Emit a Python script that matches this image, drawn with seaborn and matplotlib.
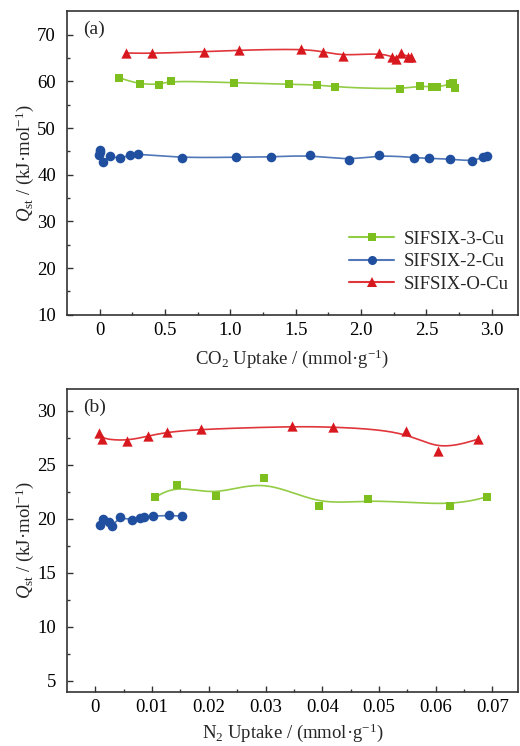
"""
Isosteric heat of adsorption (Qst) for SIFSIX-Cu materials, CO2 and N2
"""

import numpy as np
import seaborn as sns
import matplotlib.pyplot as plt
from matplotlib.lines import Line2D

# -------------------------
# Data
# -------------------------
series_names = ["SIFSIX-3-Cu", "SIFSIX-2-Cu", "SIFSIX-O-Cu"]

# (a) CO2
co2_3cu_x = [0.146, 0.305, 0.454, 0.549, 1.03, 1.45, 1.66, 1.80, 2.30, 2.45, 2.54, 2.58, 2.68, 2.70, 2.72]
co2_3cu_y = [60.8, 59.4, 59.35, 60.2, 59.7, 59.4, 59.3, 58.8, 58.3, 59.1, 58.8, 58.8, 59.4, 59.7, 58.7]

co2_2cu_x = [0.0, 0.005, -0.005, 0.023, 0.075, 0.154, 0.23, 0.29, 0.63, 1.046, 1.31, 1.61, 1.91,
             2.14, 2.405, 2.52, 2.68, 2.85, 2.93, 2.965]
co2_2cu_y = [45.3, 44.8, 44.3, 42.8, 44.0, 43.5, 44.2, 44.5, 43.6, 43.8, 43.8, 44.25, 43.1,
             44.25, 43.7, 43.5, 43.4, 42.9, 43.75, 44.0]

co2_ocu_x = [0.198, 0.40, 0.80, 1.065, 1.54, 1.71, 1.86, 2.14, 2.24, 2.27, 2.305, 2.36, 2.38]
co2_ocu_y = [66.1, 66.0, 66.4, 66.7, 67.0, 66.4, 65.5, 66.1, 65.3, 64.9, 66.1, 65.3, 65.2]

# (b) N2
n2_3cu_x = [0.0105, 0.0144, 0.0213, 0.0297, 0.0395, 0.0480, 0.0625, 0.0691]
n2_3cu_y = [21.99, 23.13, 22.11, 23.77, 21.18, 21.86, 21.18, 22.04]

n2_2cu_x = [0.0008, 0.0013, 0.0024, 0.0029, 0.0044, 0.0064, 0.0079, 0.0086, 0.0102, 0.0129, 0.0153]
n2_2cu_y = [19.45, 20.0, 19.73, 19.36, 20.17, 19.89, 20.07, 20.17, 20.26, 20.32, 20.26]

n2_ocu_x = [0.0007, 0.0012, 0.0055, 0.0092, 0.0126, 0.0187, 0.0346, 0.0419, 0.0547, 0.0604, 0.0675]
n2_ocu_y = [27.91, 27.38, 27.22, 27.66, 28.03, 28.31, 28.56, 28.52, 28.15, 26.3, 27.38]

colors = ["#7cbf1f", "#1f4f9e", "#d7191f"]
line_colors = ["#93cc45", "#5077b8", "#e0363b"]
markers = ["s", "o", "^"]
sizes = [38, 48, 55]


def bspline(x, y, n=25):
    """Clamped uniform cubic B-spline using the points as control points."""
    px = np.r_[x[0], x[0], x, x[-1], x[-1]]
    py = np.r_[y[0], y[0], y, y[-1], y[-1]]
    t = np.linspace(0, 1, n)
    b = [(1 - t) ** 3 / 6,
         (3 * t ** 3 - 6 * t ** 2 + 4) / 6,
         (-3 * t ** 3 + 3 * t ** 2 + 3 * t + 1) / 6,
         t ** 3 / 6]
    cx, cy = [], []
    for i in range(len(px) - 3):
        cx.append(sum(b[k] * px[i + k] for k in range(4)))
        cy.append(sum(b[k] * py[i + k] for k in range(4)))
    return np.concatenate(cx), np.concatenate(cy)


sns.set_style("ticks")
plt.rcParams["font.family"] = ["Liberation Serif", "DejaVu Serif"]
plt.rcParams["mathtext.fontset"] = "custom"
plt.rcParams["mathtext.rm"] = "Liberation Serif"
plt.rcParams["mathtext.it"] = "Liberation Serif:italic"
plt.rcParams["font.size"] = 13.5

fig = plt.figure(figsize=(5.2, 7.46), dpi=100)
ax_a = fig.add_axes([0.129, 0.578, 0.867, 0.4066])
ax_b = fig.add_axes([0.129, 0.0728, 0.867, 0.4054])

panels = [
    (ax_a, [(co2_3cu_x, co2_3cu_y), (co2_2cu_x, co2_2cu_y), (co2_ocu_x, co2_ocu_y)]),
    (ax_b, [(n2_3cu_x, n2_3cu_y), (n2_2cu_x, n2_2cu_y), (n2_ocu_x, n2_ocu_y)]),
]

for ax, data in panels:
    for i, (x, y) in enumerate(data):
        cx, cy = bspline(np.array(x), np.array(y))
        sns.lineplot(x=cx, y=cy, sort=False, estimator=None, color=line_colors[i],
                     linewidth=1.2, ax=ax, zorder=2)
        sns.scatterplot(x=x, y=y, marker=markers[i], s=sizes[i], color=colors[i],
                        linewidth=0, ax=ax, zorder=3)

# -------------------------
# Axes styling
# -------------------------
ax_a.set_xlim(-0.25, 3.2)
ax_a.set_ylim(10, 75)
ax_a.set_xticks([0, 0.5, 1.0, 1.5, 2.0, 2.5, 3.0])
ax_a.set_xticklabels(["0", "0.5", "1.0", "1.5", "2.0", "2.5", "3.0"])
ax_a.set_xticks(np.arange(0.25, 3.2, 0.5), minor=True)
ax_a.set_yticks(range(10, 71, 10))
ax_a.set_yticks(range(15, 75, 10), minor=True)
ax_a.set_xlabel(r"CO$_2$ Uptake / (mmol·g$^{-1}$)", labelpad=6)

ax_b.set_xlim(-0.005, 0.0745)
ax_b.set_ylim(4, 32)
ax_b.set_xticks([0, 0.01, 0.02, 0.03, 0.04, 0.05, 0.06, 0.07])
ax_b.set_xticklabels(["0", "0.01", "0.02", "0.03", "0.04", "0.05", "0.06", "0.07"])
ax_b.set_xticks(np.arange(0.005, 0.0745, 0.01), minor=True)
ax_b.set_yticks(range(5, 31, 5))
ax_b.set_yticks(np.arange(7.5, 32, 5), minor=True)
ax_b.set_xlabel(r"N$_2$ Uptake / (mmol·g$^{-1}$)", labelpad=4)

for ax, tag in [(ax_a, "(a)"), (ax_b, "(b)")]:
    ax.set_ylabel(r"$\mathit{Q}_{\rm st}$ / (kJ·mol$^{-1}$)", labelpad=1)
    ax.text(0.035, 0.94, tag, transform=ax.transAxes, fontsize=14, va="center")
    for sp in ax.spines.values():
        sp.set_visible(True)
        sp.set_color("#333333")
        sp.set_linewidth(1.2)
    ax.tick_params(which="both", direction="in", top=False, right=False,
                   colors="#333333", labelcolor="black", labelsize=13.5)
    ax.tick_params(which="major", length=4, width=1, pad=5)
    ax.tick_params(axis="y", which="major", pad=8)
    ax.tick_params(which="minor", length=2, width=1)

handles = [Line2D([], [], color=line_colors[i], marker=markers[i], markersize=[6, 6.5, 7][i],
                  markerfacecolor=colors[i], markeredgewidth=0, linewidth=1.5)
           for i in range(3)]
ax_a.legend(handles, series_names, loc="center right", bbox_to_anchor=(1.0, 0.175),
            frameon=False, fontsize=13.5, handlelength=2.4, labelspacing=0.3,
            handletextpad=0.5, borderaxespad=0.1)

fig.savefig("out.png", dpi=100)
